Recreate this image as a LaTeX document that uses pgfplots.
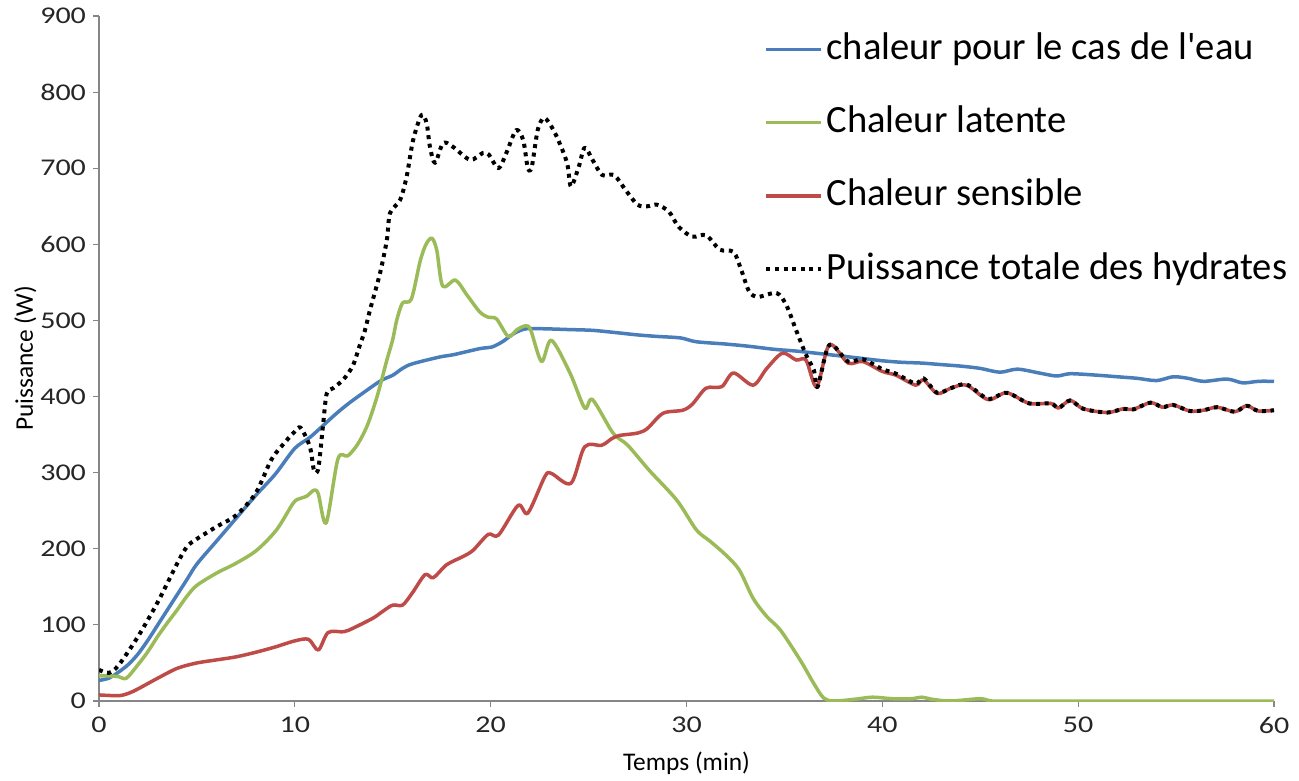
\documentclass[border=0pt]{standalone}
\usepackage{fontspec}
\setmainfont{Carlito}[Ligatures=TeXOff]
\newfontfamily\tickfont{Carlito}[FakeStretch=1.25]
\usepackage{pgfplots}
\pgfplotsset{compat=1.18}
\usepackage{pgfplotstable}
\definecolor{cblue}{HTML}{4A7EBB}
\definecolor{cgreen}{HTML}{9BBB59}
\definecolor{cred}{HTML}{BE4B48}
\definecolor{axgray}{HTML}{868686}
\newcommand{\tickfs}{\tickfont\fontsize{12}{14}\selectfont}
\newcommand{\labfs}{\fontsize{12.7}{14}\selectfont}

\pgfplotstableread{
t W
0 27
0.5 30
1 38
1.5 48
2 62
2.5 80
3 100
3.5 120
4 140
4.5 160
5 180
6 210
7 240
8 270
9 298
10 332
10.8 347
12 375
12.7 390
13.5 405
14.4 421
15 428
15.5 437
16 443
17.4 452
18.1 455
19.45 463
20.05 465
20.6 472
21.2 483
21.8 489
22.8 489
24 488
25.2 487
26.4 484
27.5 481
28.5 479
29.7 477
30.5 472
32 469
33.2 466
34.5 462
35.5 460
36.6 457
38 453
39 450
40 447
41 445
42 444
43 442
44 440
45 437
46 432
46.9 436
48 431
48.9 427
49.6 430
51 428
52 426
53 424
54 421
54.85 426
55.6 424
56.4 420
57.6 423
58.4 418
59.2 420
60 420
}\tblue

\pgfplotstableread{
t W
0 33
0.5 33
1 32
1.4 30
2 48
2.5 65
3 85
3.5 103
4 120
4.5 138
5 152
6 168
7 181
8.05 198
9.07 225
9.92 260
10.26 266
10.6 269
10.98 277
11.2 272
11.6 234
12.2 318
12.7 322
13.2 337
13.7 362
14.2 400
14.7 448
15.0 475
15.2 500
15.5 523
15.95 528
16.4 578
16.7 600
17.0 608
17.25 592
17.55 545
18.2 553
18.8 533
19.45 511
19.9 504
20.3 502
20.9 479
21.35 488
21.8 493
22.05 487
22.6 446
23.1 474
24.05 431
24.8 385
25.2 396
26.25 352
27 336
28.1 303
29.5 264
30.5 225
31.2 210
32 192
32.7 172
33.4 135
34.1 111
34.8 93
35.8 54
36.5 23
37 4
37.5 0
38.5 2
39.5 5
40.5 3
41.5 3
42 5
42.6 2
43.5 0
45 3
45.6 0
47 0
50 0
55 0
60 0
}\tgreen

\pgfplotstableread{
t W
0 8
1 7
1.5 10
2 16
3 30
4 43
5 50
6 54
7 58
8 64
9 71
10 79
10.7 81
11.2 67
11.7 90
12.5 91
13 96
14 109
14.5 118
15 126
15.5 126
16 142
16.65 166
17.07 162
17.75 179
18.6 190
19.1 198
19.88 219
20.4 218
21.4 257
21.9 247
22.77 295
23.1 299
24.1 286
24.8 334
25.67 336
26.2 345
26.6 349
27.5 352
28 358
28.8 378
29.8 382
30.3 390
31 411
31.8 413
32.4 431
33.4 415
34.1 437
34.9 457
35.6 448
36.1 448
36.65 413
37.3 468
38.25 444
39 446
40 433
40.7 428
41.7 415
42.1 422
42.8 404
43.5 411
44.3 415
45.4 396
46.35 405
47.5 391
48.6 391
49 385
49.6 395
50.25 384
51.5 379
52.3 384
52.8 383
53.7 392
54.3 386
54.85 389
55.7 381
56.4 382
57.1 386
58 380
58.6 388
59.2 381
60 382
}\tred

\pgfplotstableread{
t W
0 41
0.5 37
1 47
2 85
3 130
4 181
4.5 203
5 213
6 229
7 244
8 273
8.8 317
9.5 340
10 354
10.3 359
10.77 334
10.98 303
11.2 306
11.45 365
11.63 404
11.96 411
12.5 423
12.97 441
13.3 466
13.58 487
13.84 514
14.35 562
14.7 606
14.86 641
15.37 658
15.71 689
16.04 737
16.47 770
16.73 759
16.9 728
17.16 707
17.57 733
18.08 728
18.95 711
19.6 720
19.9 718
20.4 700
20.8 720
21.3 750
21.66 737
21.9 700
22.1 702
22.4 750
22.7 766
23.0 759
23.4 740
23.9 707
24.1 676
24.5 702
24.8 727
25.2 711
25.7 691
26.3 691
26.9 671
27.5 652
28.0 650
28.5 652
29.1 643
29.6 623
30.3 610
31.0 612
31.7 593
32.4 590
32.8 566
33.2 538
33.65 531
34.6 536
35.1 520
35.6 487
36.1 455
36.5 435
36.7 413
37.3 468
38.25 446
39 449
40 436
40.7 430
41.7 417
42.1 424
42.8 405
43.5 411
44.3 416
45.4 397
46.35 405
47.5 391
48.6 391
49 385
49.6 395
50.25 384
51.5 379
52.3 384
52.8 383
53.7 392
54.3 386
54.85 389
55.7 381
56.4 382
57.1 386
58 380
58.6 388
59.2 381
60 382
}\tblack

\begin{document}
\begin{tikzpicture}
\begin{axis}[
  width=587.5pt, height=342.5pt, scale only axis,
  xmin=0, xmax=60, ymin=0, ymax=900,
  axis lines=left,
  axis line style={-, draw=axgray, line width=0.6pt},
  xtick={0,10,...,60}, ytick={0,100,...,900},
  tick align=outside, major tick length=3pt,
  tick style={draw=axgray, line width=0.6pt},
  /pgf/number format/assume math mode=true,
  xticklabel style={font=\tickfs, text=black!85, yshift=-1.5pt},
  yticklabel style={font=\tickfs, text=black!85},
  xlabel={Temps (min)}, ylabel={Puissance (W)},
  every axis x label/.style={at={(axis description cs:0.5,0)}, anchor=base, yshift=-34.5pt, font=\labfs},
  every axis y label/.style={at={(axis description cs:0,0.5)}, xshift=-33pt, rotate=90, anchor=base, font=\labfs},
  legend cell align=left,
  legend style={at={(0.566,0.978)}, anchor=north west, draw=none, fill=none,
    font=\fontsize{19.3}{23}\selectfont, inner sep=0pt, row sep=18.6pt,
    nodes={inner xsep=1.5pt, inner ysep=0pt, text height=14pt, text depth=4pt}},
  legend image code/.code={\draw[#1] (0pt,0pt) -- (27.5pt,0pt);},
  every axis plot/.append style={line width=1.75pt, line join=round},
]
\addplot[cblue, smooth] table[x=t, y=W] {\tblue};
\addplot[cgreen, smooth] table[x=t, y=W] {\tgreen};
\addplot[cred, smooth] table[x=t, y=W] {\tred};
\addplot[black, smooth, line width=2pt, dash pattern=on 2pt off 2.3pt] table[x=t, y=W] {\tblack};
\legend{chaleur pour le cas de l'eau, Chaleur latente, Chaleur sensible, Puissance totale des hydrates}
\end{axis}
\path (current axis.south west) ++(-49.5pt,-36.5pt);
\path (current axis.north east) ++(12.5pt,8pt);
\end{tikzpicture}
\end{document}
